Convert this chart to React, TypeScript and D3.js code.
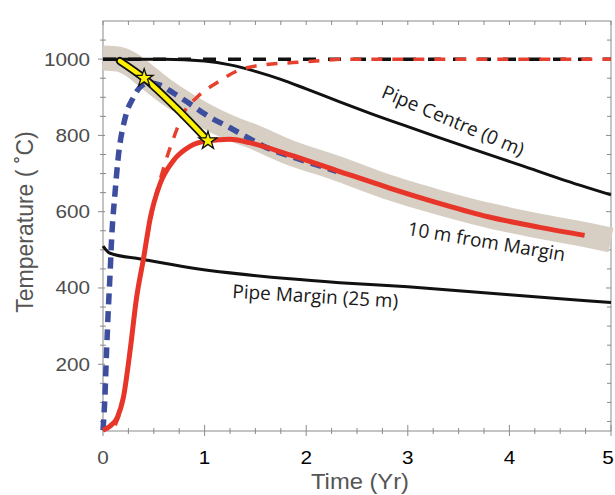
import * as d3 from "d3";

const W = 615;
const H = 495;
const M = { left: 103, right: 4, top: 21, bottom: 64 };

// [time (yr), temperature (°C)]
const pipeCentre = [
  [0, 1000], [0.6, 1000], [1.0, 995], [1.25, 985], [1.5, 968], [1.75, 947], [2.0, 922],
  [2.33, 888], [2.63, 858], [3.0, 823], [3.28, 797], [3.64, 764], [4.13, 720], [4.5, 686],
  [5, 644],
];
const pipeCentreDashed = [[0, 1000], [5, 1000]];
const pipeMargin = [
  [0, 510], [0.07, 491], [0.37, 476], [0.86, 453], [1.84, 424], [2.33, 414], [3, 403],
  [3.5, 393], [4, 382], [4.5, 372], [5, 362],
];
const band = [
  [0, 1003], [0.15, 1000], [0.27, 987], [0.45, 950], [0.63, 913], [0.76, 890], [1, 852],
  [1.25, 820], [1.45, 800], [1.84, 755], [2.3, 714], [2.8, 665], [3.3, 625], [3.8, 590],
  [4.3, 562], [4.74, 540], [5, 526],
];
const redSolid = [
  [0, 27], [0.07, 38], [0.14, 60], [0.2, 112], [0.27, 243], [0.33, 374], [0.4, 479],
  [0.465, 583], [0.56, 672], [0.69, 733], [0.86, 772], [1.03, 786], [1.25, 790],
  [1.44, 781], [1.84, 749], [2.3, 708], [2.82, 662], [3.31, 622], [3.8, 586], [4.3, 559],
  [4.74, 538],
];
const redDashed = [
  [0.12, 40], [0.2, 110], [0.27, 240], [0.33, 370], [0.4, 480], [0.5, 620], [0.6, 718],
  [0.71, 804], [0.79, 857], [0.92, 899], [1.12, 938], [1.32, 969], [1.61, 986],
  [1.87, 991], [2.13, 996], [2.4, 1000], [5, 1000],
];
const blueDashed = [
  [0, 27], [0.017, 104], [0.036, 240], [0.05, 330], [0.07, 440], [0.085, 530],
  [0.118, 648], [0.147, 735], [0.22, 848], [0.3, 900], [0.36, 925], [0.45, 938],
  [0.56, 932], [0.7, 910], [0.86, 882], [1.02, 853], [1.25, 820], [1.42, 795],
  [1.61, 768], [1.84, 746], [2.04, 728], [2.3, 706],
];
const yellowPath = [[0.167, 995], [0.405, 950], [0.72, 872], [1.033, 786]];
const stars = [[0.405, 950], [1.033, 786]];

const xTicks = [0, 1, 2, 3, 4, 5];
const yTicks = [200, 400, 600, 800, 1000];
const xMinor = d3.range(0, 5.01, 0.25);
const yMinor = d3.range(50, 1100, 50);

const labels = [
  { text: "Pipe Centre (0 m)", t: 2.73, v: 901, angle: 23 },
  { text: "10 m from Margin", t: 2.99, v: 539, angle: 9.5 },
  { text: "Pipe Margin (25 m)", t: 1.27, v: 374, angle: 3.4 },
];

export default function App() {
  const x = d3.scaleLinear().domain([0, 5]).range([M.left, W - M.right]);
  const y = d3.scaleLinear().domain([25, 1100]).range([H - M.bottom, M.top]);

  const line = d3
    .line<number[]>()
    .x((d) => x(d[0]))
    .y((d) => y(d[1]))
    .curve(d3.curveMonotoneX);

  const x0 = x.range()[0];
  const x1 = x.range()[1];
  const y0 = y.range()[0];
  const y1 = y.range()[1];
  const axisColor = "#8a8a8a";
  const star = d3.symbol(d3.symbolStar, 100)();

  return (
    <svg
      width={W}
      height={H}
      style={{ position: "absolute", left: 0, top: 0, background: "#fff" }}
    >
      {/* axes frame */}
      <rect x={x0} y={y1} width={x1 - x0} height={y0 - y1} fill="none" stroke={axisColor} strokeWidth={1} />

      {xMinor.map((t, i) => {
        const major = Math.abs(t - Math.round(t)) < 1e-6;
        return (
          <g key={"xm" + i} stroke={axisColor} strokeWidth={1}>
            <line x1={x(t)} x2={x(t)} y1={y0 - (major ? 6 : 3)} y2={y0 + (major ? 5 : 3)} />
            <line x1={x(t)} x2={x(t)} y1={y1} y2={y1 + 4} />
          </g>
        );
      })}
      {yMinor.map((v, i) => {
        const major = v % 200 === 0;
        return (
          <g key={"ym" + i} stroke={axisColor} strokeWidth={1}>
            <line x1={x0 - (major ? 5 : 3)} x2={x0 + (major ? 2 : 3)} y1={y(v)} y2={y(v)} />
            <line x1={x1 - (major ? 5 : 4)} x2={x1} y1={y(v)} y2={y(v)} />
          </g>
        );
      })}

      {/* curves */}
      <path d={line(band)!} fill="none" stroke="#d7cfc3" strokeWidth={25} strokeLinecap="butt" />
      <path d={line(pipeMargin)!} fill="none" stroke="#111" strokeWidth={3} />
      <path d={line(pipeCentre)!} fill="none" stroke="#111" strokeWidth={3} />
      <path d={line(pipeCentreDashed)!} fill="none" stroke="#111" strokeWidth={3.5} strokeDasharray="13 12" />
      <path d={line(redDashed)!} fill="none" stroke="#e8402f" strokeWidth={3.5} strokeDasharray="11 10" />
      <path d={line(blueDashed)!} fill="none" stroke="#3d4e9e" strokeWidth={5.5} strokeDasharray="11 7" />
      <path d={line(redSolid)!} fill="none" stroke="#e8352a" strokeWidth={5} />

      {/* yellow track with stars */}
      <path d={line(yellowPath)!} fill="none" stroke="#111" strokeWidth={8} strokeLinecap="round" />
      <path d={line(yellowPath)!} fill="none" stroke="#fff200" strokeWidth={4.5} strokeLinecap="round" />
      {stars.map((s, i) => (
        <path
          key={"s" + i}
          d={star!}
          transform={`translate(${x(s[0])},${y(s[1])})`}
          fill="#fff200"
          stroke="#111"
          strokeWidth={1.3}
          strokeLinejoin="miter"
        />
      ))}

      {/* tick labels */}
      {yTicks.map((v) => (
        <text
          key={"yl" + v}
          transform={`translate(${x0 - 13},${y(v) + 6.5}) scale(1.15,1)`}
          textAnchor="end"
          fontFamily="Liberation Sans, Arial, sans-serif"
          fontSize={18}
          fill="#4d4d4d"
        >
          {v}
        </text>
      ))}
      {xTicks.map((t) => (
        <text
          key={"xl" + t}
          transform={`translate(${Math.min(x(t), W - 7)},${y0 + 33}) scale(1.15,1)`}
          textAnchor="middle"
          fontFamily="Liberation Sans, Arial, sans-serif"
          fontSize={18}
          fill={t === 0 ? "#4d4d4d" : "#000"}
        >
          {t}
        </text>
      ))}

      {/* axis titles */}
      <text
        transform={`translate(360,489) scale(1.08,1)`}
        textAnchor="middle"
        fontFamily="Liberation Sans, Arial, sans-serif"
        fontSize={22}
        fill="#555"
      >
        Time (Yr)
      </text>
      <text
        transform={`translate(33,222) rotate(-90)`}
        textAnchor="middle"
        fontFamily="Liberation Sans, Arial, sans-serif"
        fontSize={23}
        fill="#555"
      >
        Temperature ( ˚C)
      </text>

      {/* curve annotations */}
      {labels.map((l) => (
        <text
          key={l.text}
          transform={`translate(${x(l.t)},${y(l.v)}) rotate(${l.angle})`}
          fontFamily="Open Sans, sans-serif"
          fontSize={19}
          fill="#1a1a1a"
        >
          {l.text}
        </text>
      ))}
    </svg>
  );
}
